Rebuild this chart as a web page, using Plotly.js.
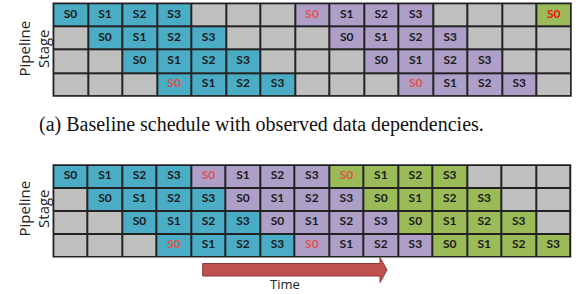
<!DOCTYPE html>
<html>
<head>
<meta charset="utf-8">
<script src="https://cdn.plot.ly/plotly-3.0.1.min.js"></script>
<style>html,body{margin:0;padding:0;background:#fff;}#chart{width:579px;height:294px;}</style>
</head>
<body>
<div id="chart"></div>
<script>
// ---- Data ----
var columns = [0,1,2,3,4,5,6,7,8,9,10,11,12,13,14];
var stages = [0,1,2,3];
// colour code per cell: 0 idle, 1 iteration A (teal), 2 iteration B (purple), 3 iteration C (green)
var topCodes = [
  [1,1,1,1,0,0,0,2,2,2,2,0,0,0,3],
  [0,1,1,1,1,0,0,0,2,2,2,2,0,0,0],
  [0,0,1,1,1,1,0,0,0,2,2,2,2,0,0],
  [0,0,0,1,1,1,1,0,0,0,2,2,2,2,0]
];
var topLabels = [
  ["S0","S1","S2","S3","","","","S0","S1","S2","S3","","","","S0"],
  ["","S0","S1","S2","S3","","","","S0","S1","S2","S3","","",""],
  ["","","S0","S1","S2","S3","","","","S0","S1","S2","S3","",""],
  ["","","","S0","S1","S2","S3","","","","S0","S1","S2","S3",""]
];
var topRed = [[0,7],[0,14],[3,3],[3,10]];

var botCodes = [
  [1,1,1,1,2,2,2,2,3,3,3,3,0,0,0],
  [0,1,1,1,1,2,2,2,2,3,3,3,3,0,0],
  [0,0,1,1,1,1,2,2,2,2,3,3,3,3,0],
  [0,0,0,1,1,1,1,2,2,2,2,3,3,3,3]
];
var botLabels = [
  ["S0","S1","S2","S3","S0","S1","S2","S3","S0","S1","S2","S3","","",""],
  ["","S0","S1","S2","S3","S0","S1","S2","S3","S0","S1","S2","S3","",""],
  ["","","S0","S1","S2","S3","S0","S1","S2","S3","S0","S1","S2","S3",""],
  ["","","","S0","S1","S2","S3","S0","S1","S2","S3","S0","S1","S2","S3"]
];
var botRed = [[0,4],[0,8],[3,3],[3,7]];

var captionA = "(a) Baseline schedule with observed data dependencies.";
var yLabel = "Pipeline<br>Stage";
var timeLabel = "Time";

// ---- Styling ----
var W = 579, H = 294;
var GREY = "#c0c0c0", TEAL = "#4bacc6", PURPLE = "#ae9fc9", GREEN = "#9bbb59";
var colorscale = [[0,GREY],[0.1667,GREY],[0.1667,TEAL],[0.5,TEAL],[0.5,PURPLE],[0.8333,PURPLE],[0.8333,GREEN],[1,GREEN]];
function px(x){return x/W;}
function py(y){return 1-y/H;}

function heat(codes, xa, ya){
  return {type:"heatmap", x:columns, y:stages, z:codes, zmin:0, zmax:3,
    colorscale:colorscale, showscale:false, xgap:2, ygap:2, hoverinfo:"skip",
    xaxis:xa, yaxis:ya};
}
function labels(lbls, red, xa, ya, redColor){
  var xs=[],ys=[],ts=[],cs=[];
  for(var r=0;r<lbls.length;r++){
    for(var c=0;c<lbls[r].length;c++){
      if(!lbls[r][c]) continue;
      xs.push(columns[c]); ys.push(stages[r]); ts.push(lbls[r][c]);
      var col="#1a1a1a";
      for(var k=0;k<red.length;k++){ if(red[k][0]===r&&red[k][1]===c){ col = redColor(r,c); } }
      cs.push(col);
    }
  }
  return {type:"scatter", mode:"text", x:xs, y:ys, text:ts,
    textfont:{family:"Lato, 'Open Sans', sans-serif", size:12, color:cs, weight:"bold"},
    textposition:"middle center", hoverinfo:"skip", xaxis:xa, yaxis:ya};
}
function redTop(r,c){ return topCodes[r][c]===3 ? "#f01010" : "#e2504a"; }
function redBot(r,c){ return "#e2504a"; }

var data = [
  heat(topCodes,"x","y"), labels(topLabels, topRed, "x","y", redTop),
  heat(botCodes,"x2","y2"), labels(botLabels, botRed, "x2","y2", redBot)
];

function ax(dom){return {domain:dom, range:[-0.5,14.5], showgrid:false, zeroline:false, showticklabels:false, ticks:"", fixedrange:true};}
function ay(dom){return {domain:dom, range:[3.5,-0.5], showgrid:false, zeroline:false, showticklabels:false, ticks:"", fixedrange:true};}

var layout = {
  width:W, height:H, margin:{l:0,r:0,t:0,b:0},
  paper_bgcolor:"#ffffff", plot_bgcolor:"#222222", showlegend:false,
  xaxis: ax([px(53.3), px(571)]), yaxis: ay([py(96), py(3.3)]),
  xaxis2: Object.assign(ax([px(53.3), px(570.5)]),{anchor:"y2"}), yaxis2: Object.assign(ay([py(256.7), py(165)]),{anchor:"x2"}),
  shapes:[
    {type:"rect", xref:"x domain", yref:"y domain", x0:0,x1:1,y0:0,y1:1, line:{color:"#222",width:1.5}},
    {type:"rect", xref:"x2 domain", yref:"y2 domain", x0:0,x1:1,y0:0,y1:1, line:{color:"#222",width:1.5}},
    {type:"path", xref:"paper", yref:"paper",
      path:"M"+px(202.7)+","+py(263.5)+" L"+px(380)+","+py(263.5)+" L"+px(380)+","+py(257.5)+" L"+px(387)+","+py(270)+" L"+px(380)+","+py(282.5)+" L"+px(380)+","+py(276)+" L"+px(202.7)+","+py(276)+" Z",
      fillcolor:"#c0504d", line:{color:"#8c3836", width:1}}
  ],
  annotations:[
    {text:captionA, xref:"paper", yref:"paper", x:px(261), y:py(125), xanchor:"center", yanchor:"middle", showarrow:false,
      font:{family:"'Liberation Serif', 'Times New Roman', serif", size:20, color:"#111"}},
    {text:yLabel, xref:"paper", yref:"paper", x:px(33.5), y:py(49), xanchor:"center", yanchor:"middle", showarrow:false, textangle:-90,
      font:{family:"'Open Sans', sans-serif", size:15, color:"#222"}},
    {text:yLabel, xref:"paper", yref:"paper", x:px(33.5), y:py(209), xanchor:"center", yanchor:"middle", showarrow:false, textangle:-90,
      font:{family:"'Open Sans', sans-serif", size:15, color:"#222"}},
    {text:timeLabel, xref:"paper", yref:"paper", x:px(285), y:py(293.5), xanchor:"center", yanchor:"bottom", borderpad:0, showarrow:false,
      font:{family:"'Open Sans', sans-serif", size:13, color:"#222"}}
  ]
};
Plotly.newPlot("chart", data, layout, {staticPlot:true, displayModeBar:false});
</script>
</body>
</html>
